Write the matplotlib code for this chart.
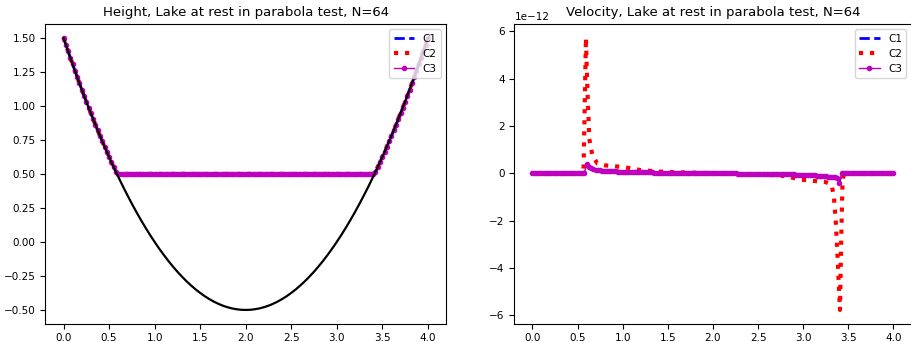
import matplotlib
matplotlib.use("Agg")
import matplotlib.pyplot as plt

######## Data ########
# coarse points for the bottom curve
x_grid = [0.00, 0.05, 0.10, 0.15, 0.20, 0.25, 0.30, 0.35, 0.40, 0.45,
          0.50, 0.55, 0.60, 0.65, 0.70, 0.75, 0.80, 0.85, 0.90, 0.95,
          1.00, 1.05, 1.10, 1.15, 1.20, 1.25, 1.30, 1.35, 1.40, 1.45,
          1.50, 1.55, 1.60, 1.65, 1.70, 1.75, 1.80, 1.85, 1.90, 1.95,
          2.00, 2.05, 2.10, 2.15, 2.20, 2.25, 2.30, 2.35, 2.40, 2.45,
          2.50, 2.55, 2.60, 2.65, 2.70, 2.75, 2.80, 2.85, 2.90, 2.95,
          3.00, 3.05, 3.10, 3.15, 3.20, 3.25, 3.30, 3.35, 3.40, 3.45,
          3.50, 3.55, 3.60, 3.65, 3.70, 3.75, 3.80, 3.85, 3.90, 3.95,
          4.00]

# bottom (black curve)
bathymetry = [1.500, 1.401, 1.305, 1.211, 1.120, 1.031, 0.945, 0.861, 0.780, 0.701,
              0.625, 0.551, 0.480, 0.411, 0.345, 0.281, 0.220, 0.161, 0.105, 0.051,
              0.000, -0.049, -0.095, -0.139, -0.180, -0.219, -0.255, -0.289, -0.320, -0.349,
              -0.375, -0.399, -0.420, -0.439, -0.455, -0.469, -0.480, -0.489, -0.495, -0.499,
              -0.500, -0.499, -0.495, -0.489, -0.480, -0.469, -0.455, -0.439, -0.420, -0.399,
              -0.375, -0.349, -0.320, -0.289, -0.255, -0.219, -0.180, -0.139, -0.095, -0.049,
              0.000, 0.051, 0.105, 0.161, 0.220, 0.281, 0.345, 0.411, 0.480, 0.551,
              0.625, 0.701, 0.780, 0.861, 0.945, 1.031, 1.120, 1.211, 1.305, 1.401,
              1.500]

# solution points (dense, the markers of C3)
x_sol = [0.000, 0.025, 0.050, 0.075, 0.100, 0.125, 0.150, 0.175,
         0.200, 0.225, 0.250, 0.275, 0.300, 0.325, 0.350, 0.375,
         0.400, 0.425, 0.450, 0.475, 0.500, 0.525, 0.550, 0.575,
         0.600, 0.625, 0.650, 0.675, 0.700, 0.725, 0.750, 0.775,
         0.800, 0.825, 0.850, 0.875, 0.900, 0.925, 0.950, 0.975,
         1.000, 1.025, 1.050, 1.075, 1.100, 1.125, 1.150, 1.175,
         1.200, 1.225, 1.250, 1.275, 1.300, 1.325, 1.350, 1.375,
         1.400, 1.425, 1.450, 1.475, 1.500, 1.525, 1.550, 1.575,
         1.600, 1.625, 1.650, 1.675, 1.700, 1.725, 1.750, 1.775,
         1.800, 1.825, 1.850, 1.875, 1.900, 1.925, 1.950, 1.975,
         2.000, 2.025, 2.050, 2.075, 2.100, 2.125, 2.150, 2.175,
         2.200, 2.225, 2.250, 2.275, 2.300, 2.325, 2.350, 2.375,
         2.400, 2.425, 2.450, 2.475, 2.500, 2.525, 2.550, 2.575,
         2.600, 2.625, 2.650, 2.675, 2.700, 2.725, 2.750, 2.775,
         2.800, 2.825, 2.850, 2.875, 2.900, 2.925, 2.950, 2.975,
         3.000, 3.025, 3.050, 3.075, 3.100, 3.125, 3.150, 3.175,
         3.200, 3.225, 3.250, 3.275, 3.300, 3.325, 3.350, 3.375,
         3.400, 3.425, 3.450, 3.475, 3.500, 3.525, 3.550, 3.575,
         3.600, 3.625, 3.650, 3.675, 3.700, 3.725, 3.750, 3.775,
         3.800, 3.825, 3.850, 3.875, 3.900, 3.925, 3.950, 3.975,
         4.000]

# free surface, identical for C1, C2, C3
height = [1.500, 1.450, 1.401, 1.353, 1.305, 1.258, 1.211, 1.165,
          1.120, 1.075, 1.031, 0.988, 0.945, 0.903, 0.861, 0.820,
          0.780, 0.740, 0.701, 0.663, 0.625, 0.588, 0.551, 0.515,
          0.5, 0.5, 0.5, 0.5, 0.5, 0.5, 0.5, 0.5,
          0.5, 0.5, 0.5, 0.5, 0.5, 0.5, 0.5, 0.5,
          0.5, 0.5, 0.5, 0.5, 0.5, 0.5, 0.5, 0.5,
          0.5, 0.5, 0.5, 0.5, 0.5, 0.5, 0.5, 0.5,
          0.5, 0.5, 0.5, 0.5, 0.5, 0.5, 0.5, 0.5,
          0.5, 0.5, 0.5, 0.5, 0.5, 0.5, 0.5, 0.5,
          0.5, 0.5, 0.5, 0.5, 0.5, 0.5, 0.5, 0.5,
          0.5, 0.5, 0.5, 0.5, 0.5, 0.5, 0.5, 0.5,
          0.5, 0.5, 0.5, 0.5, 0.5, 0.5, 0.5, 0.5,
          0.5, 0.5, 0.5, 0.5, 0.5, 0.5, 0.5, 0.5,
          0.5, 0.5, 0.5, 0.5, 0.5, 0.5, 0.5, 0.5,
          0.5, 0.5, 0.5, 0.5, 0.5, 0.5, 0.5, 0.5,
          0.5, 0.5, 0.5, 0.5, 0.5, 0.5, 0.5, 0.5,
          0.5, 0.5, 0.5, 0.5, 0.5, 0.5, 0.5, 0.5,
          0.5, 0.515, 0.551, 0.588, 0.625, 0.663, 0.701, 0.740,
          0.780, 0.820, 0.861, 0.903, 0.945, 0.988, 1.031, 1.075,
          1.120, 1.165, 1.211, 1.258, 1.305, 1.353, 1.401, 1.450,
          1.500]

# velocities, in units of 1e-12
vel_scale = 1e-12
vel_c1 = [0, 0, 0, 0, 0, 0, 0, 0,
          0, 0, 0, 0, 0, 0, 0, 0,
          0, 0, 0, 0, 0, 0, 0, 0,
          0.30, 0.22, 0.18, 0.16, 0.14, 0.125, 0.115, 0.105,
          0.10, 0.095, 0.09, 0.085, 0.08, 0.075, 0.07, 0.065,
          0.06, 0.058, 0.055, 0.052, 0.05, 0.048, 0.045, 0.042,
          0.04, 0.038, 0.035, 0.033, 0.03, 0.03, 0.028, 0.026,
          0.025, 0.023, 0.02, 0.02, 0.018, 0.016, 0.015, 0.013,
          0.012, 0.011, 0.01, 0.009, 0.008, 0.007, 0.006, 0.005,
          0.004, 0.003, 0.002, 0.001, 0, 0, 0, 0,
          0, 0, -0.002, -0.004, -0.005, -0.006, -0.008, -0.009,
          -0.01, -0.011, -0.012, -0.013, -0.015, -0.016, -0.017, -0.018,
          -0.02, -0.02, -0.021, -0.022, -0.023, -0.024, -0.025, -0.026,
          -0.027, -0.028, -0.03, -0.031, -0.033, -0.035, -0.037, -0.04,
          -0.042, -0.045, -0.048, -0.05, -0.053, -0.057, -0.062, -0.066,
          -0.07, -0.075, -0.08, -0.085, -0.09, -0.095, -0.10, -0.11,
          -0.12, -0.125, -0.13, -0.14, -0.15, -0.16, -0.17, -0.19,
          -0.35, 0, 0, 0, 0, 0, 0, 0,
          0, 0, 0, 0, 0, 0, 0, 0,
          0, 0, 0, 0, 0, 0, 0, 0,
          0]
vel_c3 = [0, 0, 0, 0, 0, 0, 0, 0,
          0, 0, 0, 0, 0, 0, 0, 0,
          0, 0, 0, 0, 0, 0, 0, 0,
          0.38, 0.25, 0.20, 0.17, 0.15, 0.13, 0.12, 0.11,
          0.10, 0.095, 0.09, 0.085, 0.08, 0.075, 0.07, 0.065,
          0.06, 0.058, 0.055, 0.052, 0.05, 0.048, 0.045, 0.042,
          0.04, 0.038, 0.035, 0.033, 0.03, 0.03, 0.028, 0.026,
          0.025, 0.023, 0.02, 0.02, 0.018, 0.016, 0.015, 0.013,
          0.012, 0.011, 0.01, 0.009, 0.008, 0.007, 0.006, 0.005,
          0.004, 0.003, 0.002, 0.001, 0, 0, 0, 0,
          0, 0, -0.002, -0.004, -0.005, -0.006, -0.008, -0.009,
          -0.01, -0.011, -0.012, -0.013, -0.015, -0.016, -0.017, -0.018,
          -0.02, -0.02, -0.021, -0.022, -0.023, -0.024, -0.025, -0.026,
          -0.027, -0.028, -0.03, -0.031, -0.033, -0.035, -0.037, -0.04,
          -0.042, -0.045, -0.048, -0.05, -0.053, -0.057, -0.062, -0.066,
          -0.07, -0.075, -0.08, -0.085, -0.09, -0.095, -0.10, -0.11,
          -0.12, -0.125, -0.13, -0.14, -0.15, -0.16, -0.17, -0.20,
          -0.42, 0, 0, 0, 0, 0, 0, 0,
          0, 0, 0, 0, 0, 0, 0, 0,
          0, 0, 0, 0, 0, 0, 0, 0,
          0]

# C2 has its own points, denser around the two spikes
x_c2 = [0.00, 0.56, 0.567, 0.593, 0.600, 0.608, 0.615, 0.622, 0.630, 0.648,
        0.666, 0.72, 0.81, 0.90, 1.00, 1.10, 1.20, 1.40, 1.60, 1.80,
        2.00, 2.20, 2.40, 2.60, 2.75, 2.86, 2.96, 3.05, 3.15, 3.24,
        3.30, 3.32, 3.34, 3.36, 3.38, 3.395, 3.407, 3.42, 3.435, 3.45,
        4.00]
vel_c2 = [0, 0, 0.3, 5.72, 4.7, 3.7, 2.9, 2.3, 1.45, 1.08,
          0.73, 0.41, 0.33, 0.30, 0.26, 0.20, 0.13, 0.07, 0.04, 0.02,
          0.0, -0.04, -0.05, -0.07, -0.10, -0.17, -0.27, -0.30, -0.34, -0.37,
          -0.45, -0.6, -1.0, -2.0, -3.5, -4.8, -5.78, -3.0, -0.4, 0,
          0]

title_height = "Height, Lake at rest in parabola test, N=64"
title_velocity = "Velocity, Lake at rest in parabola test, N=64"

######## Plot ########
plt.rcParams["font.size"] = 7.5

fig = plt.figure(figsize=(9.12, 3.42), dpi=100)
ax1 = fig.add_axes([0.0497, 0.054, 0.4394, 0.875])
ax2 = fig.add_axes([0.564, 0.054, 0.4355, 0.875])

# Height
ax1.plot(x_sol, height, "b--", lw=2, label="C1")
ax1.plot(x_sol, height, "r:", lw=3, label="C2")
ax1.plot(x_sol, height, "m.-", lw=1, ms=6, label="C3")
ax1.plot(x_grid, bathymetry, "k-", lw=1.6)
ax1.set_title(title_height, fontsize=9.5)
ax1.legend(loc="upper right")

# Velocity
vel_c1_plot = [v * vel_scale for v in vel_c1]
vel_c2_plot = [v * vel_scale for v in vel_c2]
vel_c3_plot = [v * vel_scale for v in vel_c3]
ax2.plot(x_sol, vel_c1_plot, "b--", lw=2, label="C1")
ax2.plot(x_c2, vel_c2_plot, "r:", lw=3, label="C2")
ax2.plot(x_sol, vel_c3_plot, "m.-", lw=1, ms=6, label="C3")
ax2.set_title(title_velocity, fontsize=9.5)
ax2.legend(loc="upper right")

fig.savefig("out.png", dpi=100)
